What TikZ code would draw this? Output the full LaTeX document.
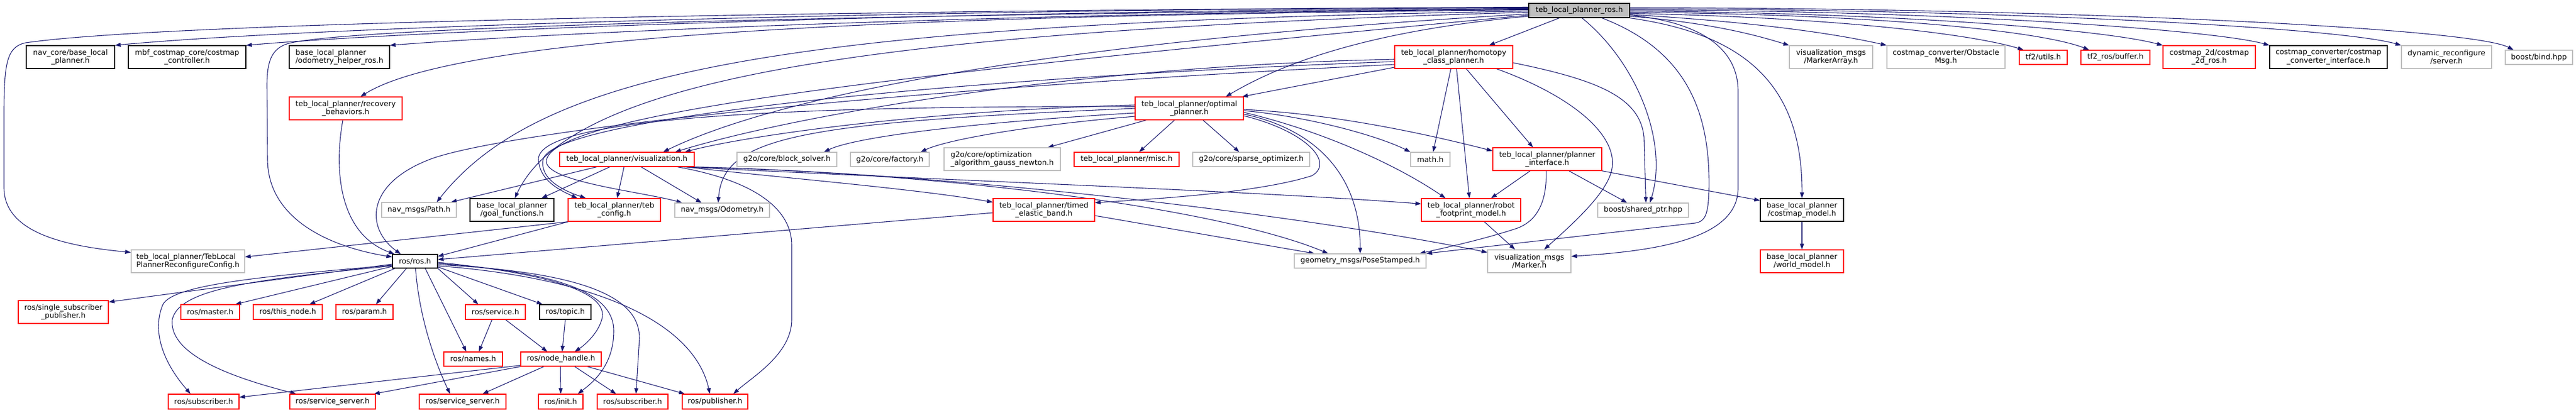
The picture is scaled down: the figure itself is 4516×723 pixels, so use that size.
\documentclass[tikz,border=0pt]{standalone}
\usepackage{fontspec}
\setmainfont{DejaVu Sans}
\usetikzlibrary{arrows.meta}
\definecolor{edgec}{HTML}{191970}
\definecolor{gbord}{HTML}{BFBFBF}
\definecolor{rootfill}{HTML}{BFBFBF}
\pgfdeclarelayer{bg}
\pgfsetlayers{bg,main}
\tikzset{
  box/.style={draw, line width=1.2pt, inner sep=0pt, align=center, fill=white,
    font=\fontsize{13}{14.5}\selectfont},
  rbox/.style={box, draw=red},
  gbox/.style={box, draw=gbord},
  kbox/.style={box, draw=black},
  rootbox/.style={box, draw=black, fill=rootfill},
  e/.style={draw=edgec, line width=1.1pt, -{Triangle[length=10pt,width=7pt]}}
}
\begin{document}
\begin{tikzpicture}[x=1pt,y=-1pt]
\useasboundingbox (0,0) rectangle (4516,723);
% ---------------- nodes ----------------
\node[rootbox, minimum width=177pt, minimum height=25pt] (T) at (2768.5,18.5) {teb\_local\_planner\_ros.h};
\node[kbox, minimum width=155pt, minimum height=40pt] (navcore) at (123.5,100) {nav\_core/base\_local\\\_planner.h};
\node[kbox, minimum width=206pt, minimum height=40pt] (mbf) at (328,100) {mbf\_costmap\_core/costmap\\\_controller.h};
\node[kbox, align=left, minimum width=176pt, minimum height=40pt] (odom) at (595,100) {base\_local\_planner\\/odometry\_helper\_ros.h};
\node[rbox, minimum width=207pt, minimum height=40pt] (homo) at (2548.5,100) {teb\_local\_planner/homotopy\\\_class\_planner.h};
\node[gbox, minimum width=146pt, minimum height=40pt] (marr) at (3210,100) {visualization\_msgs\\/MarkerArray.h};
\node[gbox, minimum width=207pt, minimum height=40pt] (obst) at (3411.5,100) {costmap\_converter/Obstacle\\Msg.h};
\node[rbox, minimum width=84pt, minimum height=25pt] (tfu) at (3582,100.5) {tf2/utils.h};
\node[rbox, minimum width=121pt, minimum height=25pt] (tfb) at (3708.5,100.5) {tf2\_ros/buffer.h};
\node[rbox, minimum width=162pt, minimum height=40pt] (cm2d) at (3873,100) {costmap\_2d/costmap\\\_2d\_ros.h};
\node[kbox, minimum width=206pt, minimum height=40pt] (cci) at (4082,100) {costmap\_converter/costmap\\\_converter\_interface.h};
\node[gbox, minimum width=158pt, minimum height=40pt] (dyn) at (4289,100) {dynamic\_reconfigure\\/server.h};
\node[gbox, minimum width=118pt, minimum height=25pt] (bind) at (4451,100.5) {boost/bind.hpp};

\node[rbox, minimum width=198pt, minimum height=40pt] (recov) at (606,190) {teb\_local\_planner/recovery\\\_behaviors.h};
\node[rbox, minimum width=190pt, minimum height=40pt] (opt) at (2085,190) {teb\_local\_planner/optimal\\\_planner.h};

\node[rbox, minimum width=236pt, minimum height=25pt] (vis) at (1099,279.5) {teb\_local\_planner/visualization.h};
\node[gbox, minimum width=175pt, minimum height=25pt] (block) at (1379.5,279.5) {g2o/core/block\_solver.h};
\node[gbox, minimum width=138pt, minimum height=25pt] (fact) at (1560,279.5) {g2o/core/factory.h};
\node[gbox, align=left, minimum width=204pt, minimum height=40pt] (gauss) at (1757,279) {g2o/core/optimization\\\_algorithm\_gauss\_newton.h};
\node[rbox, minimum width=184pt, minimum height=25pt] (misc) at (1975,279.5) {teb\_local\_planner/misc.h};
\node[gbox, minimum width=205pt, minimum height=25pt] (sparse) at (2193.5,279.5) {g2o/core/sparse\_optimizer.h};
\node[gbox, minimum width=69pt, minimum height=25pt] (math) at (2507.5,279.5) {math.h};
\node[rbox, minimum width=191pt, minimum height=40pt] (pint) at (2712.5,279) {teb\_local\_planner/planner\\\_interface.h};

\node[gbox, minimum width=131pt, minimum height=26pt] (path) at (734.5,368) {nav\_msgs/Path.h};
\node[kbox, minimum width=147pt, minimum height=40pt] (goal) at (897.5,368) {base\_local\_planner\\/goal\_functions.h};
\node[rbox, minimum width=162pt, minimum height=40pt] (conf) at (1077,368) {teb\_local\_planner/teb\\\_config.h};
\node[gbox, minimum width=166pt, minimum height=25pt] (odomsg) at (1266,368.5) {nav\_msgs/Odometry.h};
\node[rbox, minimum width=178pt, minimum height=40pt] (teb) at (1830,368) {teb\_local\_planner/timed\\\_elastic\_band.h};
\node[rbox, minimum width=174pt, minimum height=40pt] (foot) at (2579,368) {teb\_local\_planner/robot\\\_footprint\_model.h};
\node[gbox, minimum width=159pt, minimum height=25pt] (shptr) at (2880.5,368.5) {boost/shared\_ptr.hpp};
\node[kbox, minimum width=146pt, minimum height=40pt] (cmodel) at (3159,368) {base\_local\_planner\\/costmap\_model.h};

\node[gbox, align=left, minimum width=199pt, minimum height=40pt] (reconf) at (329.5,458) {teb\_local\_planner/TebLocal\\PlannerReconfigureConfig.h};
\node[kbox, minimum width=79pt, minimum height=24pt] (ros) at (727.5,458) {ros/ros.h};
\node[gbox, minimum width=231pt, minimum height=25pt] (pose) at (2384.5,457.5) {geometry\_msgs/PoseStamped.h};
\node[gbox, minimum width=146pt, minimum height=40pt] (marker) at (2681,458) {visualization\_msgs\\/Marker.h};
\node[rbox, minimum width=146pt, minimum height=40pt] (world) at (3159,458) {base\_local\_planner\\/world\_model.h};

\node[rbox, minimum width=158pt, minimum height=40pt] (ssp) at (111,547) {ros/single\_subscriber\\\_publisher.h};
\node[rbox, minimum width=103pt, minimum height=26pt] (master) at (368.5,547) {ros/master.h};
\node[rbox, minimum width=121pt, minimum height=26pt] (thisn) at (504.5,547) {ros/this\_node.h};
\node[rbox, minimum width=100pt, minimum height=26pt] (param) at (639,547) {ros/param.h};
\node[rbox, minimum width=105pt, minimum height=26pt] (service) at (868.5,547) {ros/service.h};
\node[kbox, minimum width=90pt, minimum height=26pt] (topic) at (991,547) {ros/topic.h};
\node[rbox, minimum width=103pt, minimum height=25pt] (names) at (829.5,629.5) {ros/names.h};
\node[rbox, minimum width=141pt, minimum height=25pt] (nh) at (983.5,629.5) {ros/node\_handle.h};
\node[rbox, minimum width=124pt, minimum height=26pt] (sub1) at (357,704) {ros/subscriber.h};
\node[rbox, minimum width=150pt, minimum height=26pt] (ss1) at (583,704) {ros/service\_server.h};
\node[rbox, minimum width=152pt, minimum height=26pt] (ss2) at (811,704) {ros/service\_server.h};
\node[rbox, minimum width=78pt, minimum height=26pt] (init) at (983,704) {ros/init.h};
\node[rbox, minimum width=124pt, minimum height=26pt] (sub2) at (1109,704) {ros/subscriber.h};
\node[rbox, minimum width=115pt, minimum height=26pt] (pub) at (1253.5,704) {ros/publisher.h};

% ---------------- edges ----------------
\begin{pgfonlayer}{bg}
% from teb_local_planner_ros.h, left side
\draw[e] ([yshift=5pt]T.west) .. controls (1800,14) and (600,42) .. (navcore.north east);
\draw[e] ([yshift=4pt]T.west) .. controls (1800,17) and (800,48) .. (mbf.north east);
\draw[e] ([yshift=2pt]T.west) .. controls (1800,22) and (1000,55) .. (odom.north east);
\draw[e] ([yshift=1pt]T.west) .. controls (1700,26) and (820,52) .. ([xshift=26pt]recov.north);
\draw[e] ([yshift=6pt]T.west) .. controls (1500,18) and (300,38) .. (45,75) .. controls (12,82) and (7,110) .. (7,200) -- (7,330) .. controls (8,410) and (120,432) .. ([yshift=-5pt]reconf.north west);
\draw[e] ([yshift=3pt]T.west) .. controls (1500,25) and (580,48) .. (500,78) .. controls (475,88) and (468,110) .. (468,150) -- (469,280) .. controls (470,390) and (590,435) .. ([yshift=-5pt]ros.north west);
\draw[e] ([yshift=-1pt]T.west) .. controls (1400,40) and (950,120) .. ([xshift=-35pt]path.north east);
\draw[e] ([yshift=-3pt]T.west) .. controls (1500,55) and (1000,140) .. ([xshift=5pt]goal.north);
\draw[e] ([yshift=-6pt]T.west) .. controls (1800,75) and (1350,175) .. ([xshift=-55pt]vis.north east);
\draw[e] ([yshift=-8pt]T.west) .. controls (1700,120) and (980,190) .. (958,280) .. controls (950,318) and (1120,335) .. ([xshift=-70pt]odomsg.north);
\draw[e] ([xshift=-35pt]T.south) -- ([xshift=62pt]homo.north);
\draw[e] ([yshift=-10pt]T.west) .. controls (2500,45) and (2300,80) .. ([xshift=64pt]opt.north);
% right side
\draw[e] ([yshift=-10pt]T.east) .. controls (3000,40) and (3080,62) .. (marr.north west);
\draw[e] ([yshift=-7pt]T.east) .. controls (3100,40) and (3230,62) .. (obst.north west);
\draw[e] ([yshift=-5pt]T.east) .. controls (3200,30) and (3450,58) .. ([xshift=8pt]tfu.north west);
\draw[e] ([yshift=-3pt]T.east) .. controls (3300,25) and (3580,55) .. ([xshift=15pt]tfb.north west);
\draw[e] ([yshift=-1pt]T.east) .. controls (3300,22) and (3680,50) .. (cm2d.north west);
\draw[e] ([yshift=1pt]T.east) .. controls (3400,18) and (3880,52) .. (cci.north west);
\draw[e] ([yshift=3pt]T.east) .. controls (3500,16) and (4100,48) .. (dyn.north west);
\draw[e] ([yshift=5pt]T.east) .. controls (3600,14) and (4330,48) .. ([xshift=15pt]bind.north west);
\draw[e] ([xshift=5pt]T.south) .. controls (2870,110) and (2925,250) .. ([xshift=12pt]shptr.north);
\draw[e] ([xshift=40pt]T.south) .. controls (2960,90) and (2998,200) .. (2996,330) .. controls (2995,375) and (2990,388) .. (2972,391) -- (pose.north east);
\draw[e] ([yshift=-8pt]T.east) .. controls (2990,40) and (3047,90) .. (3047,160) -- (3047,330) .. controls (3047,420) and (2900,440) .. ([yshift=-12pt]marker.north east);
\draw[e] (T.south east) .. controls (3060,60) and (3160,150) .. (cmodel.north);
% homotopy_class_planner.h
\draw[e] ([yshift=-18pt]homo.west) -- ([xshift=-3pt]opt.north east);
\draw[e] ([yshift=-4pt]homo.west) .. controls (1900,115) and (1400,200) .. ([xshift=-34pt]vis.north east);
\draw[e] ([yshift=-8pt]homo.west) .. controls (1700,135) and (965,205) .. (952,280) .. controls (946,315) and (990,335) .. ([xshift=-50pt]conf.north);
\draw[e] ([yshift=-13pt]homo.west) .. controls (1500,160) and (900,230) .. (760,277) .. controls (640,320) and (640,400) .. ([xshift=-25pt]ros.north);
\draw[e] ([xshift=-5pt]homo.south) -- ([xshift=5pt]math.north);
\draw[e] ([xshift=5pt]homo.south) -- ([xshift=-3pt]foot.north);
\draw[e] ([xshift=22pt]homo.south) -- ([xshift=-25pt]pint.north);
\draw[e] ([xshift=75pt]homo.south) .. controls (2760,170) and (2840,240) .. (2825,300) .. controls (2815,340) and (2760,390) .. ([xshift=26pt]marker.north);
\draw[e] ([yshift=-10pt]homo.east) .. controls (2800,140) and (2875,170) .. (2882,240) -- ([xshift=5pt]shptr.north);
% optimal_planner.h
\draw[e] ([yshift=6pt]opt.west) .. controls (1600,195) and (1300,240) .. ([xshift=-17pt]vis.north east);
\draw[e] ([yshift=3pt]opt.west) .. controls (1400,185) and (940,205) .. (944,280) .. controls (946,318) and (985,335) .. ([xshift=-65pt]conf.north);
\draw[e] (opt.west) .. controls (1400,215) and (1268,240) .. ([xshift=-7pt]odomsg.north);
\draw[e] ([yshift=-8pt]opt.west) .. controls (1700,215) and (1500,240) .. ([xshift=65pt]block.north);
\draw[e] ([yshift=-14pt]opt.west) .. controls (1800,220) and (1660,245) .. ([xshift=54pt]fact.north);
\draw[e] ([xshift=20pt]opt.south west) -- ([xshift=80pt]gauss.north);
\draw[e] ([xshift=-26pt]opt.south) -- ([xshift=22pt]misc.north);
\draw[e] ([xshift=24pt]opt.south) -- ([xshift=-21pt]sparse.north);
\draw[e] ([yshift=-4pt]opt.east) .. controls (2300,205) and (2420,240) .. (math.north west);
\draw[e] ([yshift=-2pt]opt.east) .. controls (2350,200) and (2520,240) .. ([yshift=-6pt]pint.north west);
\draw[e] ([yshift=-7pt]opt.east) .. controls (2320,230) and (2450,290) .. ([xshift=-45pt]foot.north);
\draw[e] ([yshift=-10pt]opt.east) .. controls (2320,230) and (2385,320) .. (pose.north);
\draw[e] ([yshift=-13pt]opt.east) .. controls (2290,230) and (2340,285) .. (2300,308) .. controls (2200,340) and (2000,350) .. ([yshift=-8pt]teb.north east);
% visualization.h
\draw[e] ([xshift=-53pt]vis.south) -- ([xshift=-10pt]path.north east);
\draw[e] ([xshift=-30pt]vis.south) -- ([xshift=52pt]goal.north);
\draw[e] ([xshift=-5pt]vis.south) -- ([xshift=5pt]conf.north);
\draw[e] ([xshift=25pt]vis.south) -- ([xshift=-36pt]odomsg.north);
\draw[e] ([xshift=-15pt]vis.south east) .. controls (1350,310) and (1600,330) .. ([yshift=-7pt]teb.north west);
\draw[e] ([xshift=-20pt]vis.south east) .. controls (1700,318) and (2200,335) .. ([yshift=-10pt]foot.north west);
\draw[e] ([xshift=-10pt]vis.south east) .. controls (1700,305) and (2150,370) .. ([xshift=-56pt]pose.north);
\draw[e] (vis.south east) .. controls (1700,305) and (2300,380) .. ([yshift=-5pt]marker.north west);
\draw[e] ([xshift=-30pt]vis.south east) .. controls (1330,318) and (1388,370) .. (1388,430) -- (1388,560) .. controls (1388,620) and (1320,660) .. ([xshift=-26pt]pub.north east);
% teb_config.h
\draw[e] ([xshift=1pt]conf.south west) -- ([yshift=-13pt]reconf.north east);
\draw[e] ([xshift=1pt]conf.south west) -- ([yshift=-4pt]ros.north east);
% timed_elastic_band.h
\draw[e] ([yshift=-5pt]teb.west) -- ([yshift=3pt]ros.east);
\draw[e] ([yshift=-10pt]teb.east) -- ([xshift=-80pt]pose.north);
% planner_interface.h
\draw[e] ([xshift=-30pt]pint.south) -- ([xshift=35pt]foot.north);
\draw[e] ([xshift=-2pt]pint.south) .. controls (2712,345) and (2700,385) .. (2660,400) .. controls (2600,420) and (2530,435) .. ([xshift=-12pt]pose.north east);
\draw[e] ([xshift=38pt]pint.south) -- ([xshift=-28pt]shptr.north);
\draw[e] (pint.south east) -- ([yshift=-4pt]cmodel.north west);
% others
\draw[e] ([xshift=23pt]foot.south) -- ([xshift=-25pt]marker.north);
\draw[e] (cmodel.south) -- (world.north);
\draw[e] ([xshift=-5pt]recov.south) .. controls (585,300) and (595,410) .. ([xshift=-36pt]ros.north);
% ros/ros.h
\draw[e] ([yshift=-5pt]ros.west) -- ([yshift=-3pt]ssp.north east);
\draw[e] ([yshift=-7pt]ros.west) .. controls (450,485) and (300,500) .. (285,535) .. controls (265,585) and (290,640) .. ([xshift=-23pt]sub1.north);
\draw[e] ([yshift=-8pt]ros.west) .. controls (450,490) and (315,505) .. (302,560) .. controls (295,625) and (420,665) .. ([xshift=-64pt]ss1.north);
\draw[e] ([yshift=-9pt]ros.west) -- ([xshift=-8pt]master.north east);
\draw[e] ([xshift=5pt]ros.south west) -- ([xshift=38pt]thisn.north);
\draw[e] ([xshift=-15pt]ros.south) -- ([xshift=20pt]param.north);
\draw[e] ([xshift=1pt]ros.south) .. controls (735,560) and (765,640) .. ([xshift=-22pt]ss2.north);
\draw[e] ([xshift=18pt]ros.south) -- ([xshift=-12pt]names.north);
\draw[e] (ros.south east) -- ([xshift=-30pt]service.north);
\draw[e] ([yshift=-10pt]ros.east) -- ([xshift=-40pt]topic.north);
\draw[e] ([yshift=-2pt]ros.east) .. controls (950,478) and (1070,510) .. (1055,560) .. controls (1048,585) and (1025,605) .. ([xshift=24pt]nh.north);
\draw[e] ([yshift=-4pt]ros.east) .. controls (1000,478) and (1076,520) .. (1076,580) .. controls (1076,640) and (1040,670) .. ([xshift=30pt]init.north);
\draw[e] ([yshift=-6pt]ros.east) .. controls (1050,478) and (1121,530) .. (1121,593) -- ([xshift=6pt]sub2.north);
\draw[e] ([yshift=-8pt]ros.east) .. controls (1080,490) and (1220,580) .. ([xshift=-9pt]pub.north);
% service / topic / node_handle
\draw[e] ([xshift=-6pt]service.south) -- ([xshift=10pt]names.north);
\draw[e] ([xshift=18pt]service.south) -- ([xshift=-24pt]nh.north);
\draw[e] (topic.south) -- ([xshift=2pt]nh.north);
\draw[e] ([yshift=-11pt]nh.west) -- ([yshift=-6pt]sub1.north east);
\draw[e] (nh.south west) -- ([xshift=-3pt]ss1.north east);
\draw[e] ([xshift=-30pt]nh.south) -- ([xshift=35pt]ss2.north);
\draw[e] ([xshift=-1pt]nh.south) -- (init.north);
\draw[e] ([xshift=24pt]nh.south) -- ([xshift=-29pt]sub2.north);
\draw[e] ([xshift=46pt]nh.south) -- ([xshift=5pt]pub.north west);
\end{pgfonlayer}
\end{tikzpicture}
\end{document}
